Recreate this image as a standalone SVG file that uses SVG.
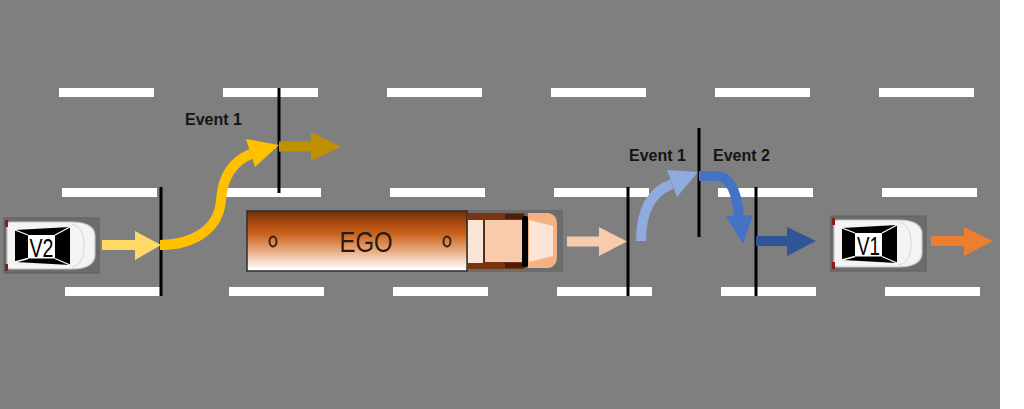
<svg xmlns="http://www.w3.org/2000/svg" width="1024" height="409" viewBox="0 0 1024 409">
<style>
.dash{fill:#ffffff}
.evline{stroke:#000;stroke-width:3;fill:none}
.evtxt{font-family:"Liberation Sans",Arial,sans-serif;font-weight:bold;font-size:16px;fill:#141414}
.carlbl{font-family:"Liberation Sans",Arial,sans-serif;font-size:25px;fill:#000;text-anchor:middle}
.shaft{fill:none;stroke-width:10}
</style>
<defs>
<linearGradient id="trailerGrad" x1="0" y1="0" x2="0" y2="1">
<stop offset="0" stop-color="#74300a"/>
<stop offset="0.2" stop-color="#a9480f"/>
<stop offset="0.38" stop-color="#c9621d"/>
<stop offset="0.65" stop-color="#e7a77c"/>
<stop offset="0.92" stop-color="#fcf0e8"/>
<stop offset="1" stop-color="#ffffff"/>
</linearGradient>
<g id="car">
<rect x="0" y="0" width="95" height="55" fill="#6c6c6c" stroke="#5e5e5e" stroke-width="1"/>
<path d="M6,4 H68 C84,4 91,10 91,18 V37 C91,45 84,51 68,51 H6 C4,51 3,50 3,48 V7 C3,5 4,4 6,4 Z" fill="#f4f4f4" stroke="#c4c4c4" stroke-width="1.2"/>
<path d="M68,6 C76,8 80,14 80,27.5 C80,41 76,47 68,49" fill="none" stroke="#d6d6d6" stroke-width="1"/>
<polygon points="11,12 66,9 66,47 11,44" fill="#000"/>
<rect x="24" y="17" width="27" height="23.5" fill="#fff"/>
<path d="M24,17 L11,12 M51,17 L66,9 M51,40.5 L66,47 M24,40.5 L11,44" stroke="#ffffff" stroke-width="1.3"/>
<rect x="1" y="2" width="3" height="7" fill="#8a1c1c"/>
<rect x="1" y="46" width="3" height="7" fill="#8a1c1c"/>
</g>
</defs>

<g id="road">
<rect x="0" y="0" width="1000" height="409" fill="#7f7f7f"/>
<rect class="dash" x="59" y="88" width="95" height="9"/>
<rect class="dash" x="223" y="88" width="95" height="9"/>
<rect class="dash" x="387" y="88" width="95" height="9"/>
<rect class="dash" x="551" y="88" width="95" height="9"/>
<rect class="dash" x="715" y="88" width="95" height="9"/>
<rect class="dash" x="879" y="88" width="95" height="9"/>
<rect class="dash" x="62" y="188" width="95" height="9"/>
<rect class="dash" x="226" y="188" width="95" height="9"/>
<rect class="dash" x="390" y="188" width="95" height="9"/>
<rect class="dash" x="554" y="188" width="95" height="9"/>
<rect class="dash" x="718" y="188" width="95" height="9"/>
<rect class="dash" x="882" y="188" width="95" height="9"/>
<rect class="dash" x="65" y="287" width="95" height="9"/>
<rect class="dash" x="229" y="287" width="95" height="9"/>
<rect class="dash" x="393" y="287" width="95" height="9"/>
<rect class="dash" x="557" y="287" width="95" height="9"/>
<rect class="dash" x="721" y="287" width="95" height="9"/>
<rect class="dash" x="885" y="287" width="95" height="9"/>
</g>

<g id="car-v2">
<use href="#car" transform="translate(4,218)"/>
<text class="carlbl" x="41.5" y="256.5" textLength="24" lengthAdjust="spacingAndGlyphs">V2</text>
</g>

<g id="truck-ego">
<rect x="466" y="210" width="97" height="62" fill="#6c6c6c"/>
<rect x="247" y="211" width="220" height="60" fill="url(#trailerGrad)" stroke="#2e2e2e" stroke-width="1.5"/>
<line x1="248" y1="268.5" x2="466" y2="268.5" stroke="#ffffff" stroke-width="1.5"/>
<ellipse cx="273" cy="241.5" rx="3.5" ry="5" fill="none" stroke="#3a2010" stroke-width="2"/>
<ellipse cx="447" cy="241.5" rx="3.5" ry="5" fill="none" stroke="#3a2010" stroke-width="2"/>
<text x="366" y="252" font-family="'Liberation Sans',Arial,sans-serif" font-size="30" fill="#2a1a10" text-anchor="middle" textLength="53" lengthAdjust="spacingAndGlyphs">EGO</text>
<rect x="467" y="213" width="58" height="56" fill="#7b3410"/>
<rect x="468" y="220" width="15" height="43" fill="#fbe5d6"/>
<rect x="483" y="220" width="2" height="43" fill="#5a2a10"/>
<rect x="485" y="220" width="37" height="42" fill="#f8cbad"/>
<rect x="505" y="214" width="18" height="5" fill="#4a1e08"/>
<rect x="505" y="263" width="18" height="5" fill="#4a1e08"/>
<path d="M528,213 L549,213 Q557,215 557,224 V257 Q557,266 549,268 L528,268 Z" fill="#f4b183"/>
<polygon points="529,220 553,226 553,256 529,262" fill="#fce4d6"/>
<rect x="522" y="216" width="6" height="51" rx="2" fill="#000"/>
</g>

<g id="car-v1">
<use href="#car" transform="translate(831,216)"/>
<text class="carlbl" x="868.5" y="254.5" textLength="23" lengthAdjust="spacingAndGlyphs">V1</text>
</g>

<g id="event-lines">
<line class="evline" x1="161" y1="187" x2="161" y2="296"/>
<line class="evline" x1="279" y1="88" x2="279" y2="193"/>
<line class="evline" x1="628" y1="187" x2="628" y2="296"/>
<line class="evline" x1="699" y1="128" x2="699" y2="237"/>
<line class="evline" x1="756" y1="187" x2="756" y2="296"/>
</g>

<g id="labels">
<text class="evtxt" x="185" y="125">Event 1</text>
<text class="evtxt" x="629" y="161">Event 1</text>
<text class="evtxt" x="713" y="161">Event 2</text>
</g>

<g id="connectors">
<rect x="102" y="240" width="34" height="10" fill="#ffd966"/>
<polygon points="135,231 161,245 135,260" fill="#ffd966"/>

<path class="shaft" stroke="#ffc000" d="M160,245 C192,245 219,230 221,200 C223,172 236,160 251,154"/>
<polygon points="279,145 246,139 255,167" fill="#ffc000"/>

<rect x="279" y="141.5" width="33" height="10" fill="#bf9000"/>
<polygon points="311,132 341,146.5 311,161" fill="#bf9000"/>

<rect x="567" y="236.5" width="33" height="10" fill="#f8cbad"/>
<polygon points="599,227 627,241.5 599,256" fill="#f8cbad"/>

<path class="shaft" stroke="#8faadc" d="M641,241 C641,212 650,192 672,184"/>
<polygon points="698,172 667,170 677,197" fill="#8faadc"/>

<path class="shaft" stroke="#4472c4" d="M699,176 H716 C730,176 737,192 739,217"/>
<polygon points="726,216 743,244 753,215" fill="#4472c4"/>

<rect x="756" y="236" width="32" height="10" fill="#2f5597"/>
<polygon points="787,227 816,241 787,256" fill="#2f5597"/>

<rect x="931" y="236" width="34" height="10" fill="#ed7d31"/>
<polygon points="964,227 993,241 964,256" fill="#ed7d31"/>
</g>
</svg>
